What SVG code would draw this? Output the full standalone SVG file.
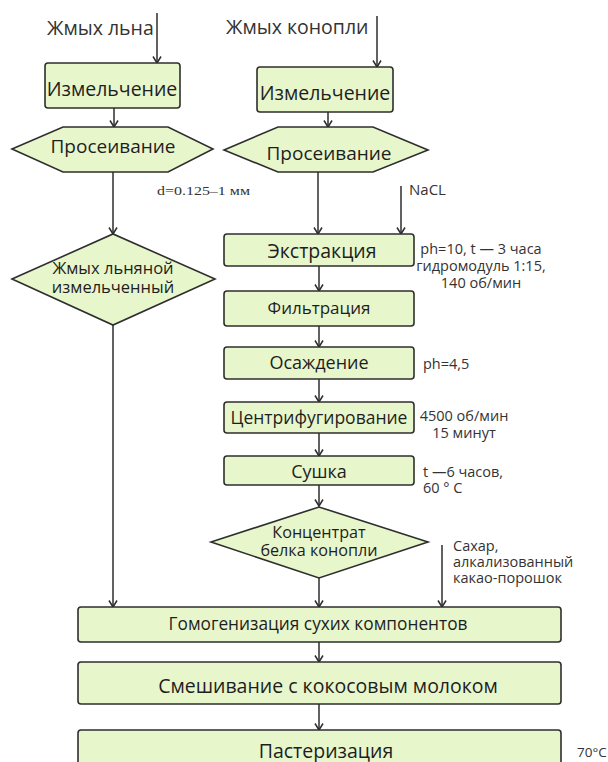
<svg xmlns="http://www.w3.org/2000/svg" width="608" height="762" viewBox="0 0 608 762">
<style>
.n{fill:#e8f6cc;stroke:#2e2e2e;stroke-width:1.6}
.t{font-family:"Open Sans","DejaVu Sans",sans-serif;fill:#1e1e1e;text-anchor:middle}
.l{font-family:"Open Sans","DejaVu Sans",sans-serif;fill:#333;font-size:14.5px}
.c{stroke:#2e2e2e;stroke-width:1.5;fill:none;marker-end:url(#a)}
</style>
<defs>
<marker id="a" markerWidth="10" markerHeight="10" refX="8.5" refY="5" orient="auto" markerUnits="userSpaceOnUse" viewBox="0 0 10 10">
<path d="M2,1 L8.5,5 L2,9" fill="none" stroke="#2e2e2e" stroke-width="1.5"/>
</marker>
</defs>
<rect width="608" height="762" fill="#fff"/>
<text x="47" y="35" class="l" style="font-size:19.5px">Жмых льна</text>
<text x="226" y="34" class="l" style="font-size:19.5px">Жмых конопли</text>
<g id="connectors">
<line class="c" x1="157" y1="13" x2="157" y2="63"/>
<line class="c" x1="377" y1="16" x2="377" y2="67"/>
<line class="c" x1="114" y1="108" x2="114" y2="127"/>
<line class="c" x1="328" y1="112" x2="328" y2="127"/>
<line class="c" x1="113" y1="172" x2="113" y2="234"/>
<line class="c" x1="318" y1="172" x2="318" y2="234"/>
<line class="c" x1="401" y1="186" x2="401" y2="234"/>
<line class="c" x1="319" y1="266" x2="319" y2="291"/>
<line class="c" x1="319" y1="326" x2="319" y2="347"/>
<line class="c" x1="319" y1="379" x2="319" y2="402"/>
<line class="c" x1="319" y1="433" x2="319" y2="456"/>
<line class="c" x1="319" y1="485" x2="319" y2="506"/>
<line class="c" x1="113" y1="325" x2="113" y2="607"/>
<line class="c" x1="319" y1="578" x2="319" y2="607"/>
<line class="c" x1="442" y1="545" x2="442" y2="607"/>
<line class="c" x1="319" y1="642" x2="319" y2="662"/>
<line class="c" x1="319" y1="704" x2="319" y2="730"/>
</g>
<g id="izm1"><rect class="n" x="45" y="63" width="135" height="45" rx="3"/><text class="t" x="112" y="96" style="font-size:19.5px">Измельчение</text></g>
<g id="izm2"><rect class="n" x="257" y="67" width="136" height="45" rx="3"/><text class="t" x="325" y="100" style="font-size:19.5px">Измельчение</text></g>
<g id="pros1"><polygon class="n" points="12,149 63,127 168,127 213,149 168,172 63,172"/><text class="t" x="113" y="153" style="font-size:19px">Просеивание</text></g>
<g id="pros2"><polygon class="n" points="224,150 278,127 373,127 428,150 373,172 278,172"/><text class="t" x="329" y="160" style="font-size:19px">Просеивание</text></g>
<text x="157" y="195" textLength="93" lengthAdjust="spacingAndGlyphs" style="font-family:'Liberation Serif',serif;font-size:13.5px;fill:#333">d=0.125–1 мм</text>
<text x="409" y="195" class="l" style="font-size:15px">NaCL</text>
<g id="zhmyh_len"><polygon class="n" points="12,279 113,234 215,279 113,325"/><text class="t" x="113" y="274" style="font-size:16.5px">Жмых льняной</text><text class="t" x="113" y="293" style="font-size:16.5px">измельченный</text></g>
<g id="extr"><rect class="n" x="224" y="234" width="190" height="32" rx="3"/><text class="t" x="322" y="258" style="font-size:19.5px">Экстракция</text></g>
<text class="l" x="481" y="254" text-anchor="middle">ph=10,  t — 3 часа</text>
<text class="l" x="481" y="271" text-anchor="middle">гидромодуль 1:15,</text>
<text class="l" x="481" y="288" text-anchor="middle">140 об/мин</text>
<g id="filtr"><rect class="n" x="224" y="291" width="190" height="35" rx="3"/><text class="t" x="319" y="314" style="font-size:17px">Фильтрация</text></g>
<g id="osazh"><rect class="n" x="224" y="347" width="190" height="32" rx="3"/><text class="t" x="319" y="369" style="font-size:18px">Осаждение</text></g>
<text class="l" x="423" y="369">ph=4,5</text>
<g id="centr"><rect class="n" x="224" y="402" width="190" height="31" rx="3"/><text class="t" x="319" y="424" style="font-size:17.5px">Центрифугирование</text></g>
<text class="l" x="464" y="421" text-anchor="middle">4500 об/мин</text>
<text class="l" x="464" y="438" text-anchor="middle">15 минут</text>
<g id="sushka"><rect class="n" x="224" y="456" width="190" height="29" rx="3"/><text class="t" x="319" y="478" style="font-size:18px">Сушка</text></g>
<text class="l" x="423" y="477">t —6 часов,</text>
<text class="l" x="423" y="493">60 ° C</text>
<g id="koncentrat"><polygon class="n" points="211,542 319,507 428,542 319,578"/><text class="t" x="319" y="538" style="font-size:16.2px">Концентрат</text><text class="t" x="319" y="556" style="font-size:16.2px">белка конопли</text></g>
<text class="l" x="453" y="551">Сахар,</text>
<text class="l" x="453" y="567">алкализованный</text>
<text class="l" x="453" y="583">какао-порошок</text>
<g id="gomog"><rect class="n" x="78" y="607" width="483" height="35" rx="3"/><text class="t" x="318" y="630" style="font-size:17.3px">Гомогенизация сухих компонентов</text></g>
<g id="smesh"><rect class="n" x="78" y="662" width="483" height="42" rx="3"/><text class="t" x="328" y="693" style="font-size:19.5px">Смешивание с кокосовым молоком</text></g>
<g id="paster"><rect class="n" x="78" y="730" width="483" height="40" rx="3"/><text class="t" x="326" y="758" style="font-size:19.5px">Пастеризация</text></g>
<text class="l" x="577" y="757" style="font-size:13.5px">70°C</text>
</svg>
